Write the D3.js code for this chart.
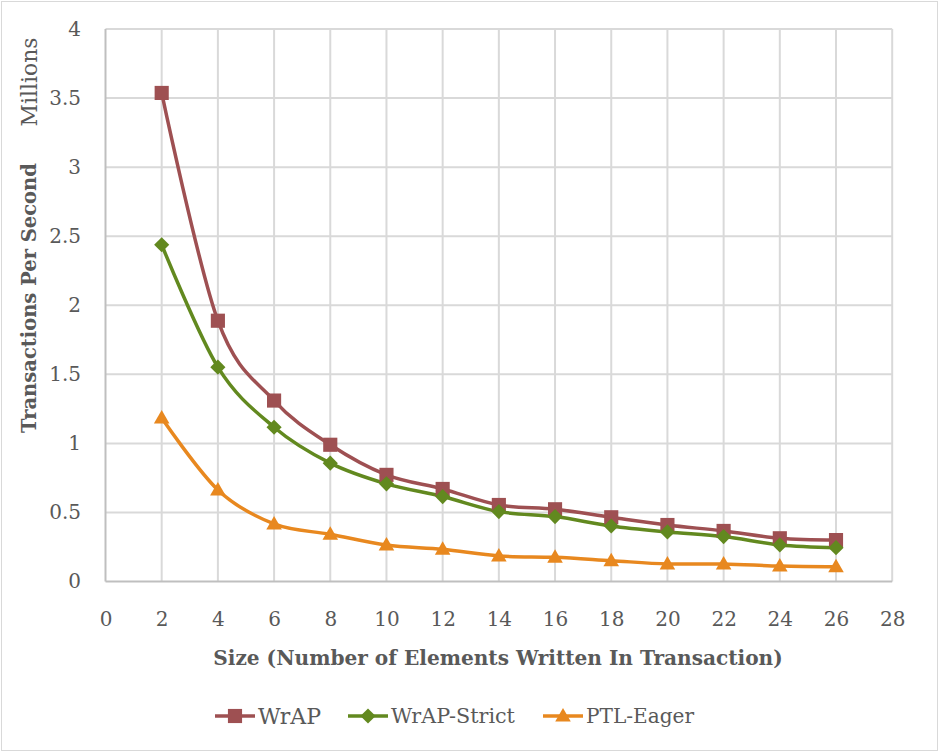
<!DOCTYPE html>
<html><head><meta charset="utf-8">
<script src="https://cdn.jsdelivr.net/npm/d3@7"></script>
<style>html,body{margin:0;padding:0;background:#fff;}svg{display:block;}</style>
</head><body>
<svg id="chart" width="939" height="752"></svg>
<script>
const sizes = [2,4,6,8,10,12,14,16,18,20,22,24,26];
const wrap = [3.537,1.888,1.31,0.99,0.772,0.67,0.554,0.523,0.465,0.409,0.366,0.313,0.30];
const wrapStrict = [2.438,1.552,1.117,0.857,0.707,0.615,0.506,0.47,0.402,0.359,0.325,0.265,0.245];
const ptlEager = [1.183,0.663,0.417,0.342,0.264,0.233,0.185,0.175,0.151,0.127,0.127,0.112,0.107];
const seriesNames = ["WrAP","WrAP-Strict","PTL-Eager"];
const xTicks = [0,2,4,6,8,10,12,14,16,18,20,22,24,26,28];
const yTicks = [0,0.5,1,1.5,2,2.5,3,3.5,4];

(function(){
const colors = ["#9E5052","#62891F","#E8881F"];
const symbols = [d3.symbolSquare, d3.symbolSquare, d3.symbolTriangle];
const symSizes = [200, 115, 105];
const symRot = [0, 45, 0];
const symDy = [0, 0, 1];
const series = [wrap, wrapStrict, ptlEager];

const svg = d3.select("#chart");
const W = 939, H = 752;
const pL = 105.5, pR = 892.2, pT = 29, pB = 581.5;
const font = "'DejaVu Serif', serif";
const txt = "#595959";

svg.append("rect").attr("x",1.5).attr("y",1.5).attr("width",W-3).attr("height",H-3)
  .attr("fill","#fff").attr("stroke","#d9d9d9").attr("stroke-width",1);

const x = d3.scaleLinear().domain([0,28]).range([pL,pR]);
const y = d3.scaleLinear().domain([0,4]).range([pB,pT]);

const g = svg.append("g");
g.selectAll(".vg").data(xTicks.filter(d=>d>0)).join("line")
  .attr("x1",d=>x(d)).attr("x2",d=>x(d)).attr("y1",pT).attr("y2",pB)
  .attr("stroke","#d9d9d9").attr("stroke-width",2);
g.selectAll(".hg").data(yTicks.filter(d=>d>0)).join("line")
  .attr("x1",pL).attr("x2",pR).attr("y1",d=>y(d)).attr("y2",d=>y(d))
  .attr("stroke","#d9d9d9").attr("stroke-width",2);
g.append("line").attr("x1",pL).attr("x2",pL).attr("y1",pT).attr("y2",pB).attr("stroke","#bfbfbf").attr("stroke-width",2);
g.append("line").attr("x1",pL).attr("x2",pR).attr("y1",pB).attr("y2",pB).attr("stroke","#bfbfbf").attr("stroke-width",2);

const xAxis = d3.axisBottom(x).tickValues(xTicks).tickSize(0).tickPadding(0).tickFormat(d3.format("d"));
const xa = svg.append("g").attr("transform",`translate(0,${pB+30})`).call(xAxis);
xa.select(".domain").remove();
xa.selectAll("text").attr("font-family",font).attr("font-size",20).attr("fill",txt).attr("dy","0.35em").attr("y",7);

const yAxis = d3.axisLeft(y).tickValues(yTicks).tickSize(0).tickPadding(0).tickFormat(d=>String(d));
const ya = svg.append("g").attr("transform",`translate(81,0)`).call(yAxis);
ya.select(".domain").remove();
ya.selectAll("text").attr("font-family",font).attr("font-size",20).attr("fill",txt).attr("dy","0.32em");

function fitText(sel, width){
  const n = sel.node();
  const fs = +sel.attr("font-size");
  const w = n.getComputedTextLength();
  if (w > 0) sel.attr("font-size", fs*width/w);
}

const xt = svg.append("text").attr("x",498).attr("y",665).attr("text-anchor","middle")
  .attr("font-family",font).attr("font-weight","bold").attr("font-size",18).attr("fill",txt)
  .text("Size (Number of Elements Written In Transaction)");
fitText(xt, 570);

const yt = svg.append("text").attr("transform","translate(36,298) rotate(-90)").attr("text-anchor","middle")
  .attr("font-family",font).attr("font-weight","bold").attr("font-size",18).attr("fill",txt)
  .text("Transactions Per Second");
fitText(yt, 270);

const mt = svg.append("text").attr("transform","translate(37,82) rotate(-90)").attr("text-anchor","middle")
  .attr("font-family",font).attr("font-size",18).attr("fill",txt)
  .text("Millions");
fitText(mt, 89);

const line = d3.line().x((d,i)=>x(sizes[i])).y(d=>y(d)).curve(d3.curveCardinal.tension(0));
series.forEach((s,k)=>{
  svg.append("path").datum(s).attr("d",line).attr("fill","none")
    .attr("stroke",colors[k]).attr("stroke-width",3.5).attr("stroke-linejoin","round");
});
series.forEach((s,k)=>{
  svg.append("g").selectAll("path").data(s).join("path")
    .attr("transform",(d,i)=>`translate(${x(sizes[i])},${y(d) + symDy[k]}) rotate(${symRot[k]})`)
    .attr("d",d3.symbol().type(symbols[k]).size(symSizes[k]))
    .attr("fill",colors[k]);
});

const legX = [215,348,543];
const legTextW = [63,124,108];
seriesNames.forEach((name,k)=>{
  const lg = svg.append("g").attr("transform",`translate(${legX[k]},716)`);
  lg.append("line").attr("x1",0).attr("x2",40).attr("y1",0).attr("y2",0).attr("stroke",colors[k]).attr("stroke-width",3.5);
  lg.append("path").attr("transform",`translate(20,${symDy[k]}) rotate(${symRot[k]})`).attr("d",d3.symbol().type(symbols[k]).size(symSizes[k])).attr("fill",colors[k]);
  const t = lg.append("text").attr("x",43).attr("y",0).attr("dy","0.35em")
    .attr("font-family",font).attr("font-size",20).attr("fill",txt).text(name);
  fitText(t, legTextW[k]);
});
})();
</script>
</body></html>
